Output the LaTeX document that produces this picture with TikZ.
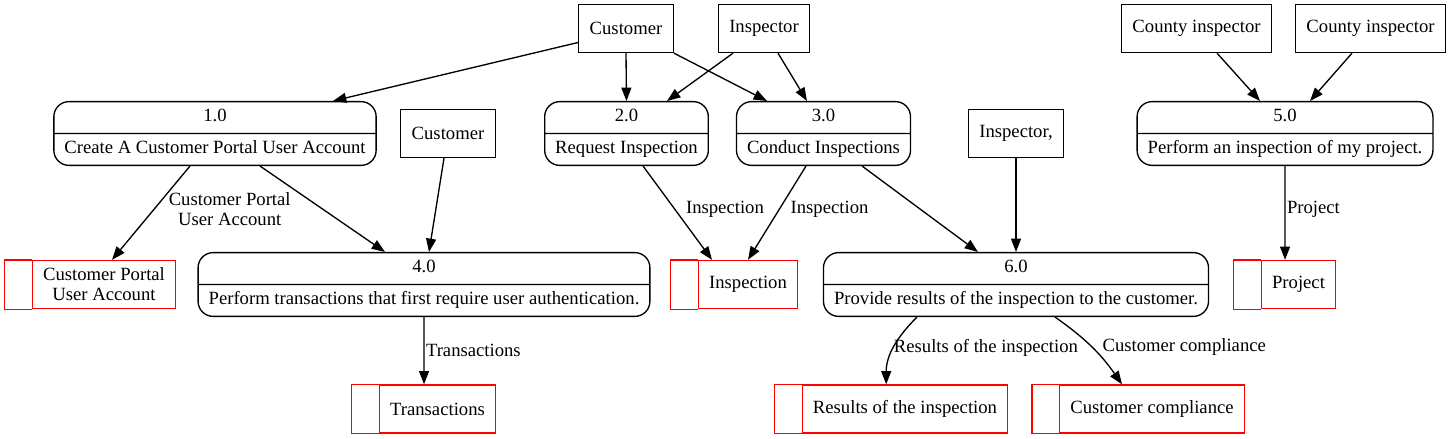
\documentclass[tikz,border=0pt]{standalone}
\usepackage{fontspec}
\setmainfont{Liberation Serif}
\usepackage{tikz}
\usetikzlibrary{arrows.meta,positioning,shapes.multipart}
\newcommand{\dfdfont}{\fontsize{14}{15}\selectfont}
\newcommand{\proc}[2]{\strut #1\nodepart{two}\strut #2}
\tikzset{
    entity/.style={draw, line width=1pt, minimum height=36pt, inner xsep=8.25pt},
    process/.style={draw, line width=1pt, rectangle split, rectangle split parts=2,
        rounded corners=11.25pt, inner xsep=7.9pt, inner ysep=3.95pt},
    store/.style={draw=red, line width=1pt, minimum height=36pt, inner xsep=8pt, inner ysep=5.3pt, align=center},
    store line/.style={red, line width=1pt},
    arr/.style={-{Triangle[length=10pt,width=7.5pt]}, line width=1pt},
    flow label/.style={inner sep=0pt},
}
\tikzstyle{every node}=[font=\dfdfont]
\begin{document}
\begin{tikzpicture}[x=0.75pt, y=-0.75pt]
    \useasboundingbox (0,0) rectangle (1453,439);

    % external entities
    \node[entity] (cust) at (626,28.5) {Customer};
    \node[entity] (insp) at (764,28.5) {Inspector};
    \node[entity] (cty1) at (1196.5,28.5) {County inspector};
    \node[entity] (cty2) at (1370.5,28.5) {County inspector};
    \node[entity] (cust2) at (448,133.5) {Customer};
    \node[entity] (insp2) at (1016,133.5) {Inspector,};

    % processes
    \node[process] (p1) at (215,133.5) {\proc{1.0}{Create A Customer Portal User Account}};
    \node[process] (p2) at (626.5,133.5) {\proc{2.0}{Request Inspection}};
    \node[process] (p3) at (823.5,133.5) {\proc{3.0}{Conduct Inspections}};
    \node[process] (p5) at (1285,133.5) {\proc{5.0}{Perform an inspection of my project.}};
    \node[process] (p4) at (424,284.5) {\proc{4.0}{Perform transactions that first require user authentication.}};
    \node[process] (p6) at (1016,284.5) {\proc{6.0}{Provide results of the inspection to the customer.}};

    % data stores (node = text cell, left cell drawn below)
    \node[store] (cpua) at (104,284.5) {Customer Portal\\User Account};
    \node[store] (sinsp) at (748,284.5) {Inspection};
    \node[store] (proj) at (1298.5,284.5) {Project};
    \node[store] (trans) at (437.5,409) {Transactions};
    \node[store] (res) at (905,409) {Results of the inspection};
    \node[store] (comp) at (1152,409) {Customer compliance};
    \foreach \s in {cpua,sinsp,proj,trans,res,comp}
        \draw[store line] (\s.north west) -- ++(-20.25pt,0) -- ([xshift=-20.25pt]\s.south west) -- (\s.south west);

    % flows
    \draw[arr] ([yshift=-10.5pt]cust.west) -- ([xshift=88.5pt]p1.north);
    \draw[arr] (cust.south) -- (p2.north);
    \draw[arr] (cust.south east) -- ([xshift=-42.4pt]p3.north);
    \draw[arr] ([xshift=-23.25pt]insp.south) -- ([xshift=30.4pt]p2.north);
    \draw[arr] ([xshift=10.5pt]insp.south) -- ([xshift=-12.4pt]p3.north);
    \draw[arr] ([xshift=15.4pt]cty1.south) -- ([xshift=-18.75pt]p5.north);
    \draw[arr] ([xshift=-13.9pt]cty2.south) -- ([xshift=18.75pt]p5.north);

    \draw[arr] ([xshift=-18.75pt]p1.south) -- ([xshift=6pt]cpua.north)
        node[flow label, align=center, pos=.46, right=10.5pt] {Customer Portal\\User Account};
    \draw[arr] ([xshift=33.75pt]p1.south) -- ([xshift=-29.25pt]p4.north);
    \draw[arr] ([xshift=-3pt]cust2.south) -- ([xshift=3.75pt]p4.north);
    \draw[arr] ([xshift=12.4pt]p2.south) -- ([xshift=-27pt]sinsp.north)
        node[flow label, pos=.46, right=8pt] {Inspection};
    \draw[arr] ([xshift=-13.1pt]p3.south) -- (sinsp.north)
        node[flow label, pos=.46, right=8pt] {Inspection};
    \draw[arr] ([xshift=28.9pt]p3.south) -- ([xshift=-28.5pt]p6.north);
    \draw[arr] (insp2.south) -- (p6.north);
    \draw[arr] (p5.south) -- ([xshift=-10.1pt]proj.north) node[flow label, pos=.46, right=1pt] {Project};

    \draw[arr] (p4.south) -- ([xshift=-10.1pt]trans.north) node[flow label, pos=.49, right=1pt] {Transactions};
    \draw[arr] ([xshift=-74.25pt]p6.south) to[out=-135, in=90]
        node[flow label, pos=.5, right=-0.5pt] {Results of the inspection} ([xshift=-14.1pt]res.north);
    \draw[arr] ([xshift=29.25pt]p6.south) to[bend left=10]
        node[flow label, pos=.5, right=7.5pt] {Customer compliance} ([xshift=-22.5pt]comp.north);
\end{tikzpicture}
\end{document}
